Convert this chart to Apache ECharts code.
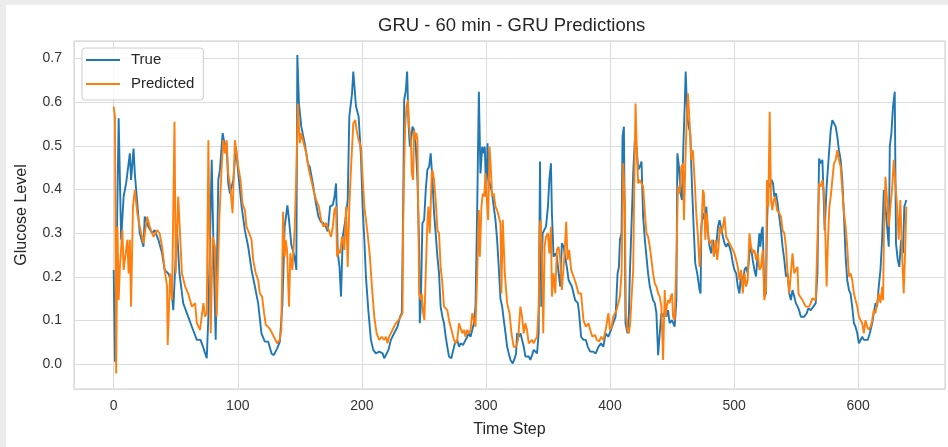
<!DOCTYPE html>
<html>
<head>
<meta charset="utf-8">
<script src="https://cdn.jsdelivr.net/npm/echarts@6/dist/echarts.min.js"></script>
<style>
  html, body { margin: 0; padding: 0; background: #ececec; }
  #chart { position: absolute; left: 6px; top: 5px; width: 942px; height: 442px; background: #ffffff; }
</style>
</head>
<body>
<div id="chart"></div>
<script>
// [time step, glucose level]
const truePoints = [
  [0,0.216],[1,0.006],[4,0.563],[6,0.285],[8,0.384],[10,0.414],[13,0.483],[14,0.422],[16,0.494],[17,0.437],
  [21,0.30],[24,0.269],[25,0.338],[28,0.315],[31,0.30],[33,0.307],[36,0.285],[39,0.254],[41,0.216],[44,0.208],
  [46,0.193],[48,0.124],[51,0.311],[53,0.208],[56,0.14],[60,0.109],[63,0.086],[67,0.056],[70,0.056],[72,0.04],
  [75,0.014],[76.3,0.109],[79,0.468],[80.3,0.285],[82.2,0.056],[84.3,0.422],[85.6,0.445],[87.8,0.529],[88.9,0.532],[89.7,0.498],
  [91,0.506],[92.3,0.414],[93.7,0.391],[96.4,0.422],[98.5,0.498],[100.4,0.437],[103.1,0.361],[105.7,0.307],[108.4,0.269],[111.1,0.216],
  [113.8,0.178],[116.4,0.14],[119.1,0.071],[121.8,0.052],[124.5,0.052],[127.2,0.025],[129,0.021],[131.7,0.036],[133.9,0.052],[136,0.14],
  [137.8,0.315],[140,0.364],[141.3,0.33],[143.2,0.273],[144.5,0.269],[145.8,0.246],[147.2,0.216],[148,0.708],[149.3,0.597],[151.2,0.544],
  [153.9,0.506],[156.5,0.46],[158,0.452],[160.5,0.414],[163,0.368],[165,0.338],[167,0.326],[169,0.323],[171,0.315],[172.5,0.304],
  [174.4,0.361],[176.6,0.365],[178,0.384],[179.2,0.414],[180.6,0.254],[182,0.223],[183.2,0.155],[184.6,0.292],[186.7,0.33],[188.6,0.376],
  [189.9,0.567],[192.1,0.62],[193.1,0.67],[195.3,0.59],[197.4,0.567],[199.3,0.475],[200.6,0.361],[202,0.285],[203.3,0.2],[205.2,0.124],
  [207.3,0.056],[209.2,0.033],[211.3,0.025],[214,0.029],[216.7,0.025],[218,0.014],[219.4,0.018],[221.5,0.033],[223.4,0.056],[226,0.071],
  [228.7,0.086],[230.9,0.11],[232.2,0.117],[233.3,0.361],[234.1,0.605],[235.5,0.628],[236.5,0.67],[237.6,0.551],[238.7,0.498],[239.7,0.513],
  [240.8,0.544],[242.1,0.536],[243.5,0.498],[244.8,0.422],[246.2,0.269],[246.7,0.094],[247.5,0.132],[248.8,0.323],[250.2,0.33],[251.5,0.399],
  [252.8,0.445],[254.2,0.452],[255.5,0.483],[256.9,0.422],[258.2,0.346],[259.5,0.30],[260.9,0.246],[262.2,0.208],[263.5,0.132],[264.9,0.109],
  [266.2,0.094],[267.6,0.063],[268.9,0.04],[270.2,0.018],[272.1,0.014],[273.7,0.033],[275,0.048],[276.9,0.056],[278.3,0.04],[279.6,0.048],
  [281.5,0.044],[283.6,0.056],[284.9,0.063],[286.3,0.071],[287.6,0.063],[289,0.079],[290.3,0.094],[291.6,0.132],[293,0.361],[294.3,0.624],
  [295.6,0.437],[297,0.498],[298.3,0.483],[299.1,0.498],[300.2,0.384],[301.3,0.506],[302.3,0.422],[303.7,0.407],[305,0.391],[306.3,0.361],
  [307.7,0.33],[309,0.285],[310.4,0.22],[311.7,0.15],[313.1,0.132],[314.4,0.101],[315.8,0.071],[317.1,0.04],[318.4,0.025],[319.8,0.01],
  [321.6,0.002],[323.2,0.014],[324.3,0.025],[325.1,0.071],[326.5,0.063],[327.8,0.071],[329.1,0.056],[330.5,0.04],[331.8,0.018],[333.1,0.014],
  [334.5,0.018],[335.8,0.01],[337.2,0.021],[338.5,0.033],[339.8,0.029],[341.2,0.025],[342.5,0.071],[343.6,0.464],[344.6,0.132],[345.7,0.30],
  [347.3,0.30],[348.4,0.315],[350,0.361],[351.1,0.422],[352.4,0.46],[353.2,0.346],[354.5,0.246],[355.9,0.254],[357.2,0.246],[358.6,0.208],
  [359.9,0.178],[361.2,0.277],[362.6,0.269],[363.9,0.246],[365.2,0.223],[366.6,0.193],[369.3,0.178],[371.9,0.147],[374.1,0.14],[375.1,0.117],
  [376.7,0.063],[378.6,0.056],[380.5,0.056],[382.1,0.04],[384,0.029],[386.6,0.029],[388.5,0.025],[390.7,0.04],[392.7,0.048],[394.6,0.04],
  [396.5,0.071],[398.6,0.063],[400.8,0.079],[402.6,0.094],[404.5,0.109],[406.1,0.208],[407.2,0.223],[408,0.285],[409.3,0.30],[410.1,0.521],
  [411.2,0.544],[412,0.285],[412.5,0.094],[414.1,0.071],[415.2,0.109],[416,0.208],[417.4,0.323],[418.7,0.437],[420,0.513],[421.4,0.498],
  [422.7,0.445],[424,0.452],[425.4,0.464],[426.7,0.338],[428.1,0.285],[429.4,0.246],[430.7,0.208],[432.1,0.178],[433.4,0.162],[434.7,0.147],
  [436.1,0.14],[437.4,0.117],[438.8,0.021],[440.1,0.071],[441.4,0.117],[442.8,0.109],[444.1,0.117],[445.4,0.109],[446.8,0.124],[448.1,0.094],
  [450,0.101],[452.1,0.086],[453.5,0.147],[454.3,0.483],[455.6,0.452],[456.9,0.391],[458,0.376],[459.1,0.498],[460.2,0.59],[461,0.67],
  [462.3,0.567],[463.4,0.544],[464.7,0.529],[466,0.414],[467.4,0.315],[468.7,0.231],[470.3,0.208],[472.2,0.17],[473,0.162],[473.6,0.315],
  [474.9,0.346],[476.3,0.33],[477.6,0.361],[478.9,0.30],[480.3,0.269],[481.6,0.254],[482.9,0.285],[484.3,0.254],[485.6,0.269],[487,0.315],
  [488.3,0.33],[489.6,0.33],[491,0.292],[492.3,0.277],[493.6,0.269],[495,0.277],[496.3,0.269],[497.7,0.254],[499,0.231],[500.3,0.216],
  [501.7,0.208],[503,0.178],[504.3,0.162],[505.7,0.208],[507,0.178],[508.4,0.216],[509.7,0.223],[511,0.208],[512.4,0.254],[513.7,0.269],
  [515,0.239],[516.4,0.216],[517.7,0.201],[519.1,0.254],[520.4,0.30],[521.2,0.269],[522.3,0.307],[523.1,0.315],[524.4,0.155],[525.7,0.162],
  [526.5,0.315],[527.6,0.414],[528.7,0.407],[530.3,0.422],[531.4,0.414],[532.4,0.384],[533.8,0.391],[535.1,0.368],[536.4,0.338],[537.8,0.307],
  [539.1,0.269],[540.5,0.239],[541.8,0.201],[543.1,0.208],[544.5,0.162],[545.8,0.147],[547.1,0.17],[548.5,0.155],[549.8,0.14],[551.2,0.132],
  [552.4,0.124],[553.8,0.109],[556.5,0.109],[558.6,0.117],[559.7,0.128],[561.8,0.124],[563.9,0.132],[565.8,0.14],[567.2,0.208],[568.5,0.471],
  [569.8,0.46],[571.2,0.468],[572,0.399],[573,0.307],[574.6,0.407],[576.5,0.483],[577.9,0.536],[579.2,0.559],[580.5,0.563],[581.9,0.544],
  [583.2,0.521],[584.5,0.49],[585.9,0.468],[587.2,0.422],[588.6,0.338],[589.9,0.246],[591.2,0.193],[592.6,0.17],[593.9,0.162],[595.2,0.132],
  [596.6,0.094],[597.9,0.086],[599.3,0.071],[600.6,0.048],[601.9,0.048],[603.3,0.063],[604.6,0.056],[605.9,0.052],[607.8,0.056],[609.4,0.071],
  [611.3,0.094],[612.6,0.117],[614,0.14],[615.3,0.132],[616.6,0.178],[618,0.216],[619.3,0.285],[620.7,0.399],[622,0.361],[623.3,0.315],
  [624.7,0.269],[625.5,0.498],[626.8,0.529],[628.1,0.59],[629.5,0.624],[630.5,0.277],[631.9,0.239],[633.2,0.223],[634.6,0.285],[636.2,0.254],
  [637.2,0.361],[638,0.368],[638.8,0.376]
];

const predPoints = [
  [0,0.59],[1,0.567],[2,-0.021],[3,0.315],[4,0.147],[5,0.223],[7,0.307],[8,0.216],[11,0.285],[12,0.208],
  [13,0.285],[14,0.132],[15.5,0.361],[17,0.399],[19,0.346],[21,0.315],[24,0.277],[27,0.338],[29,0.315],[32,0.292],
  [35,0.307],[37,0.30],[39,0.269],[41.5,0.208],[43,0.178],[43.5,0.044],[45.5,0.208],[47,0.147],[49,0.555],[50,0.208],
  [52,0.384],[55,0.208],[57.6,0.178],[60,0.162],[63,0.132],[65.6,0.14],[67,0.094],[69.6,0.079],[70.9,0.109],[72.3,0.14],
  [73.6,0.109],[75,0.117],[76.3,0.513],[78.2,0.071],[79.8,0.292],[81.6,0.269],[83,0.109],[85.1,0.33],[87,0.452],[88.3,0.513],
  [89.7,0.483],[91,0.513],[92.3,0.437],[94.2,0.399],[95.8,0.346],[97.7,0.513],[98.5,0.517],[100.4,0.452],[102.2,0.422],[103.8,0.368],
  [105.7,0.353],[107,0.315],[109.2,0.30],[111.1,0.285],[112.4,0.239],[114.5,0.208],[116.4,0.193],[117.8,0.162],[119.6,0.155],[121.2,0.117],
  [122.6,0.09],[124.4,0.086],[126.3,0.079],[127.9,0.079],[129.8,0.059],[131.7,0.048],[133.8,0.056],[135.1,0.079],[136.5,0.349],[137.8,0.246],
  [138.6,0.285],[139.7,0.262],[141.3,0.132],[142.4,0.254],[144,0.216],[145.8,0.307],[147.2,0.437],[148.5,0.597],[149.9,0.506],[151.2,0.529],
  [153.1,0.506],[155.2,0.483],[157.3,0.445],[159.2,0.422],[161,0.399],[163.2,0.376],[165.3,0.361],[167.2,0.33],[169.1,0.315],[171.2,0.323],
  [173.3,0.307],[175.2,0.292],[176.6,0.315],[177.9,0.353],[179.2,0.361],[180,0.246],[181.4,0.262],[182.4,0.254],[184,0.292],[185.9,0.262],
  [187.3,0.361],[188.6,0.223],[189.9,0.361],[191.3,0.452],[193.1,0.551],[194.7,0.559],[195.8,0.536],[197.4,0.513],[199.3,0.498],[200.6,0.429],
  [202,0.361],[204.6,0.30],[206.5,0.246],[208.1,0.178],[210,0.109],[211.9,0.071],[214,0.056],[216.1,0.063],[218,0.056],[219.4,0.063],
  [220.7,0.048],[222,0.063],[224.7,0.079],[227.4,0.094],[229.5,0.101],[231.4,0.109],[232.8,0.117],[233.3,0.315],[234.1,0.452],[234.9,0.544],
  [236,0.59],[237.1,0.605],[238.1,0.544],[239.5,0.513],[240.3,0.437],[241.3,0.422],[242.1,0.536],[242.9,0.513],[244,0.529],[244.8,0.513],
  [245.6,0.315],[246.2,0.162],[247.5,0.147],[248.3,0.162],[249.4,0.117],[250.4,0.101],[251.5,0.208],[252.8,0.323],[253.6,0.361],[254.7,0.30],
  [255.5,0.361],[256.3,0.437],[256.9,0.445],[258.2,0.422],[259.5,0.376],[260.9,0.307],[262.2,0.30],[263.5,0.223],[264.9,0.185],[266.2,0.132],
  [267.6,0.132],[268.9,0.124],[270.2,0.101],[271.6,0.086],[272.9,0.071],[274.2,0.056],[275.6,0.048],[276.9,0.056],[278.3,0.094],[279.6,0.094],
  [280.9,0.071],[282.3,0.079],[283.6,0.063],[284.9,0.079],[286.3,0.071],[287.6,0.079],[289,0.117],[290.3,0.101],[291.6,0.086],[293,0.208],
  [294.3,0.353],[295.1,0.246],[296.4,0.361],[297.5,0.391],[298.6,0.384],[299.7,0.437],[300.7,0.376],[301.8,0.33],[302.9,0.498],[303.9,0.452],
  [305,0.384],[306.3,0.391],[307.7,0.361],[309,0.353],[310.4,0.35],[311.7,0.323],[312.5,0.162],[313.6,0.33],[315.2,0.208],[317.1,0.14],
  [319,0.117],[320.6,0.071],[322.4,0.04],[324.3,0.04],[325.9,0.056],[327.8,0.132],[329.1,0.109],[330.5,0.071],[331.8,0.094],[333.1,0.079],
  [334.5,0.048],[335.8,0.044],[337.2,0.056],[338.5,0.048],[339.8,0.056],[341.2,0.063],[342.5,0.132],[343.3,0.315],[344.1,0.33],[345.2,0.246],
  [346.2,0.071],[347.3,0.269],[348.4,0.292],[350,0.30],[351.1,0.254],[352.4,0.315],[353.2,0.155],[354.5,0.208],[355.9,0.162],[357.2,0.262],
  [358.6,0.269],[359.9,0.239],[361.2,0.17],[362.6,0.223],[363.4,0.254],[364.7,0.326],[365.8,0.239],[367.1,0.262],[368.7,0.216],[370.6,0.201],
  [372.5,0.185],[374.6,0.162],[376.7,0.162],[378.6,0.101],[380.5,0.086],[382.6,0.094],[384,0.079],[385.8,0.063],[388,0.067],[389.3,0.056],
  [391.2,0.052],[392.8,0.063],[394.7,0.056],[396.5,0.079],[398.7,0.117],[400,0.079],[401.3,0.086],[402.6,0.109],[404,0.117],[405.3,0.124],
  [406.7,0.14],[408,0.155],[409.3,0.208],[410.7,0.46],[412,0.361],[412.8,0.117],[414.1,0.079],[415.2,0.071],[416.3,0.094],[417.4,0.155],
  [418.7,0.216],[419.5,0.399],[420.6,0.597],[421.6,0.49],[422.7,0.414],[424,0.422],[425.4,0.414],[426.7,0.407],[428.1,0.346],[429.4,0.30],
  [430.7,0.292],[432.1,0.269],[433.4,0.239],[434.7,0.208],[436.1,0.185],[437.4,0.178],[438.8,0.162],[440.1,0.155],[441.4,0.132],[442.8,0.01],
  [444.1,0.17],[444.9,0.109],[445.7,0.132],[446.8,0.147],[448.1,0.14],[448.9,0.155],[450,0.162],[450.8,0.109],[452.1,0.101],[453.5,0.239],
  [454.8,0.407],[456.1,0.391],[457.5,0.452],[458.8,0.46],[459.6,0.33],[460.7,0.46],[461.8,0.559],[462.8,0.62],[464.2,0.551],[465.5,0.468],
  [466.8,0.49],[468.2,0.422],[469.5,0.346],[470.9,0.292],[472.2,0.223],[473.6,0.30],[474.9,0.399],[475.7,0.391],[476.8,0.285],[478.1,0.346],
  [479.5,0.285],[480.8,0.277],[482.1,0.285],[483.7,0.246],[485.1,0.285],[486.4,0.239],[487.5,0.269],[488.6,0.315],[489.6,0.30],[491,0.315],
  [492.3,0.338],[493.6,0.292],[495,0.285],[496.3,0.277],[497.7,0.277],[499,0.262],[500.3,0.254],[501.7,0.239],[503,0.223],[504.3,0.193],
  [505.7,0.216],[507,0.162],[508.4,0.208],[509.7,0.178],[511,0.193],[512.4,0.30],[513.7,0.269],[515,0.254],[516.4,0.262],[517.7,0.239],
  [519.1,0.254],[520.4,0.216],[521.7,0.223],[523.1,0.262],[524.4,0.147],[525.7,0.17],[526.5,0.422],[527.6,0.361],[528.7,0.578],[529.8,0.376],
  [530.8,0.353],[531.9,0.376],[533,0.384],[534.6,0.353],[536.4,0.346],[537.8,0.338],[539.1,0.307],[540.5,0.30],[541.8,0.269],[543.1,0.208],
  [544.5,0.162],[545.8,0.208],[547.1,0.254],[548.5,0.208],[549.8,0.216],[551.1,0.223],[551.9,0.162],[553.2,0.155],[555.1,0.147],[556.5,0.147],
  [557.8,0.132],[559.1,0.132],[560.5,0.132],[561.8,0.14],[563.1,0.151],[564.5,0.155],[565.8,0.147],[567.2,0.147],[568.5,0.414],[569.8,0.407],
  [571.2,0.422],[572.5,0.391],[573.8,0.269],[574.6,0.178],[575.7,0.285],[576.8,0.361],[577.9,0.384],[579.2,0.422],[580.5,0.46],[581.9,0.468],
  [583.2,0.49],[584.5,0.468],[585.9,0.452],[587.2,0.399],[588.6,0.346],[589.9,0.315],[591.2,0.269],[592.6,0.201],[593.9,0.208],[595.2,0.193],
  [596.6,0.162],[597.9,0.147],[599.3,0.132],[600.6,0.109],[601.9,0.101],[603.3,0.094],[604.6,0.071],[605.9,0.101],[607.3,0.086],[608.6,0.079],
  [610,0.086],[611.3,0.101],[612.6,0.124],[614,0.117],[615.3,0.14],[616.6,0.162],[618,0.14],[619.3,0.178],[620.1,0.147],[620.7,0.285],
  [622,0.429],[623.3,0.376],[624.7,0.315],[626,0.361],[627.3,0.399],[628.7,0.468],[630,0.414],[631.4,0.361],[632.7,0.285],[634,0.376],
  [635.4,0.254],[636.7,0.162],[638,0.269],[638.8,0.361]
];

const seriesNames = ['True', 'Predicted'];
const seriesColors = ['#1f77b4', '#ff7f0e'];

const FONT = '"Liberation Sans", Arial, sans-serif';

let myChart = echarts.init(document.getElementById('chart'));
let option = {
    animation: false,
    textStyle: { fontFamily: FONT },
    title: {
        text: 'GRU - 60 min - GRU Predictions',
        left: 372,
        top: 11,
        padding: 0,
        textStyle: { fontSize: 18.5, fontWeight: 'normal', color: '#262626', fontFamily: FONT }
    },
    legend: {
        data: seriesNames,
        orient: 'vertical',
        left: 76,
        top: 43,
        icon: 'rect',
        itemWidth: 34,
        itemHeight: 2,
        itemGap: 8,
        padding: [4, 9, 8, 4],
        backgroundColor: 'rgba(255,255,255,0.8)',
        borderColor: '#cccccc',
        borderWidth: 1,
        borderRadius: 3,
        textStyle: { fontSize: 15, color: '#262626', lineHeight: 16, padding: [0, 0, 0, 6], fontFamily: FONT }
    },
    grid: {
        left: 67,
        right: 1,
        top: 36,
        bottom: 58,
        show: true,
        borderColor: '#cccccc',
        borderWidth: 1,
        backgroundColor: 'transparent'
    },
    xAxis: {
        type: 'value',
        min: -32,
        max: 670,
        splitNumber: 8,
        minInterval: 100,
        maxInterval: 100,
        name: 'Time Step',
        nameLocation: 'middle',
        nameGap: 33,
        nameTextStyle: { fontSize: 16, color: '#262626', fontFamily: FONT },
        axisLine: { show: false },
        axisTick: { show: false },
        axisLabel: {
            fontSize: 14, color: '#333333', margin: 10, fontFamily: FONT,
            formatter: function (v) { return Math.abs(v % 100) < 1e-6 ? String(Math.round(v)) : ''; }
        },
        splitLine: { show: true, lineStyle: { color: '#dcdcdc', width: 1 } }
    },
    yAxis: {
        type: 'value',
        min: -0.0565,
        max: 0.74,
        splitNumber: 8,
        minInterval: 0.1,
        maxInterval: 0.1,
        name: 'Glucose Level',
        nameLocation: 'middle',
        nameGap: 44,
        nameRotate: 90,
        nameTextStyle: { fontSize: 16, color: '#262626', fontFamily: FONT },
        axisLine: { show: false },
        axisTick: { show: false },
        axisLabel: {
            fontSize: 14, color: '#333333', margin: 12, fontFamily: FONT,
            formatter: function (v) {
                return Math.abs(v * 10 - Math.round(v * 10)) < 1e-6 ? v.toFixed(1) : '';
            }
        },
        splitLine: { show: true, lineStyle: { color: '#dcdcdc', width: 1 } }
    },
    series: [{
        name: seriesNames[0],
        type: 'line',
        data: truePoints,
        symbol: 'none',
        z: 2,
        lineStyle: { width: 1.9, color: seriesColors[0] },
        itemStyle: { color: seriesColors[0] }
    }, {
        name: seriesNames[1],
        type: 'line',
        data: predPoints,
        symbol: 'none',
        z: 3,
        lineStyle: { width: 1.9, color: seriesColors[1] },
        itemStyle: { color: seriesColors[1] }
    }]
};
myChart.setOption(option);
</script>
</body>
</html>
